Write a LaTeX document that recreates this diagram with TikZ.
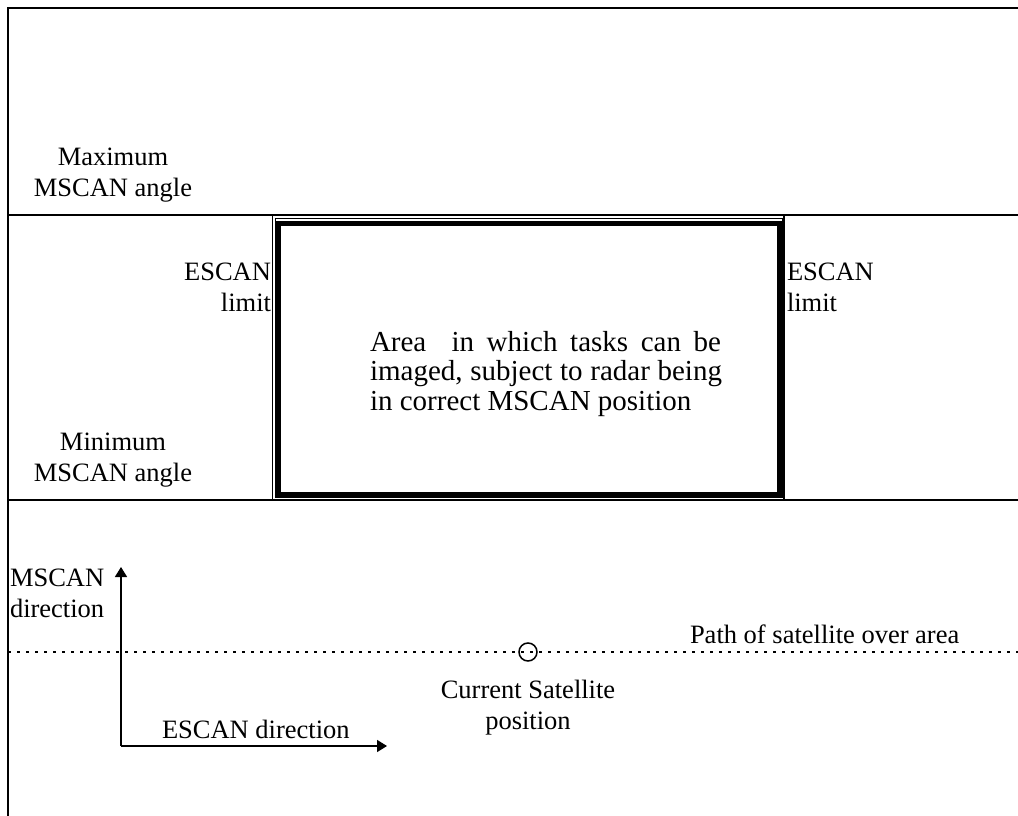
\documentclass[tikz,border=0pt]{standalone}
\usepackage{fontspec}
\setmainfont{Liberation Serif}
\usetikzlibrary{arrows.meta}
\begin{document}
\begin{tikzpicture}[x=1pt,y=-1pt,
  font=\fontsize{26.5}{31}\selectfont,
  lbl/.style={inner sep=0pt, outer sep=0pt},
  frame/.style={line width=2pt},
  divider/.style={line width=1.5pt},
  thinbox/.style={line width=1pt},
  thickbox/.style={line width=5pt},
  pathline/.style={line width=1.8pt, dash pattern=on 3pt off 6pt},
  arr/.style={line width=1.5pt, -{Triangle[length=10pt,width=12pt]}}]
\useasboundingbox (0,0) rectangle (1018,816);
% outer frame (top and left)
\coordinate (TL) at (8,8);
\coordinate (TR) at (1018,8);
\coordinate (BL) at (8,816);
\draw[frame] (TR) -- (TL) -- (BL);
% horizontal dividers
\coordinate (H1a) at (8,215);
\coordinate (H1b) at (1018,215);
\coordinate (H2a) at (8,500);
\coordinate (H2b) at (1018,500);
\draw[divider] (H1a) -- (H1b);
\draw[divider] (H2a) -- (H2b);
% vertical ESCAN limits
\coordinate (V1a) at (272.5,215);
\coordinate (V1b) at (272.5,500);
\coordinate (V2a) at (784,215);
\coordinate (V2b) at (784,500);
\draw[divider] (V1a) -- (V1b);
\draw[divider] (V2a) -- (V2b);
% double box
\draw[thinbox] (275,218.3) rectangle (782,497.7);
\draw[thickbox] (278.5,223.2) rectangle (779.2,494.2);
% labels
\node[lbl, align=center] (maxl) at (113,175) {Maximum\\MSCAN angle};
\node[lbl, align=center] (minl) at (113,460) {Minimum\\MSCAN angle};
\node[lbl, align=right, anchor=east] (esl) at (271,287) {ESCAN\\limit};
\node[lbl, align=left, anchor=west] (esr) at (787,287) {ESCAN\\limit};
\node[lbl, align=left, anchor=west, font=\fontsize{29}{29.5}\selectfont] (area) at (370,374)
  {\makebox[351pt][s]{Area\ \ in which tasks can be}\\\makebox[352pt][s]{imaged, subject to radar being}\\in correct MSCAN position};
\node[lbl, align=left, anchor=west] (mdir) at (10,593) {MSCAN\\direction};
\node[lbl, anchor=base west] (pathl) at (690,643) {Path of satellite over area};
\node[lbl, align=center] (curl) at (528,708) {Current Satellite\\position};
\node[lbl, anchor=base west] (edir) at (162,738) {ESCAN direction};
% satellite path
\coordinate (P1) at (8,652);
\coordinate (P2) at (1018,652);
\draw[pathline] (P1) -- (P2);
\node[draw, circle, line width=1.5pt, minimum size=18pt, inner sep=0pt] (sat) at (528,652) {};
% direction arrows
\coordinate (O) at (121,746);
\coordinate (Mtip) at (121,567);
\coordinate (Etip) at (387,746);
\draw[arr] (O) -- (Mtip);
\draw[arr] (O) -- (Etip);
\end{tikzpicture}
\end{document}
